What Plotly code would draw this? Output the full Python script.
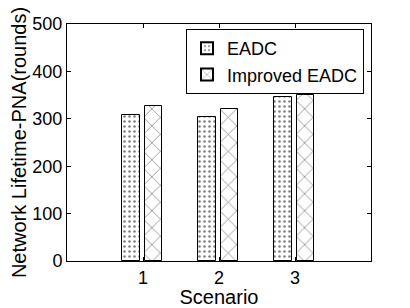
import plotly.graph_objects as go

scenarios = [1, 2, 3]
eadc = [308, 304, 346]
improved = [327, 321, 350]
y_ticks = [0, 100, 200, 300, 400, 500]

fig = go.Figure()
fig.add_trace(go.Bar(
    x=scenarios, y=eadc, name="EADC",
    offset=-0.27, width=0.235,
    marker=dict(color="white", line=dict(color="black", width=1),
                pattern=dict(shape=".", fgcolor="black", bgcolor="white", size=5, solidity=0.2)),
))
fig.add_trace(go.Bar(
    x=scenarios, y=improved, name="Improved EADC",
    offset=0.02, width=0.235,
    marker=dict(color="white", line=dict(color="black", width=1),
                pattern=dict(shape="x", fgcolor="black", bgcolor="white", size=12, solidity=0.12)),
))

family = "Liberation Sans, Arial, sans-serif"
title_font = dict(family=family, size=20, color="black")
tick_font = dict(family=family, size=18, color="black")
legend_font = dict(family=family, size=18, color="black")
# page body has an 8px default margin: shrink the figure to compensate
fig.update_layout(
    width=402, height=300,
    margin=dict(l=59, r=39, t=16, b=47),
    paper_bgcolor="white", plot_bgcolor="white",
    font=tick_font,
    showlegend=True,
    legend=dict(x=0.977, y=0.979, xanchor="right", yanchor="top",
                bordercolor="black", borderwidth=1, bgcolor="white",
                font=legend_font, tracegroupgap=0, itemsizing="constant"),
    bargap=0,
)
fig.update_xaxes(
    range=[0, 4], tickvals=scenarios, ticktext=[str(s) for s in scenarios],
    ticks="inside", ticklen=4, tickcolor="black", tickfont=tick_font,
    showline=True, linecolor="black", linewidth=1, mirror="ticks",
    showgrid=False, zeroline=False, automargin=False,
    title=dict(text="Scenario", font=title_font, standoff=0),
)
fig.update_yaxes(
    range=[0, 500], tickvals=y_ticks,
    ticks="inside", ticklen=4, tickcolor="black", tickfont=tick_font,
    showline=True, linecolor="black", linewidth=1, mirror="ticks",
    showgrid=False, zeroline=False, automargin=False,
    title=dict(text="Network Lifetime-PNA(rounds)", font=title_font, standoff=2),
)
fig.write_html("out.html")
